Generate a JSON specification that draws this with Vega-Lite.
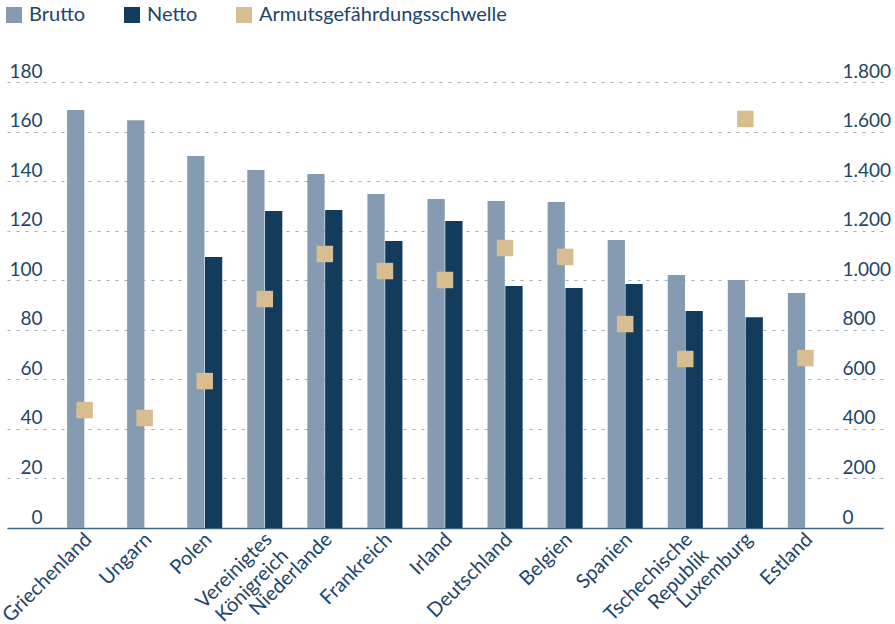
{
  "$schema": "https://vega.github.io/schema/vega-lite/v6.json",
  "width": 876,
  "height": 446,
  "autosize": {"type": "none"},
  "padding": {"left": 7, "top": 82, "right": 12, "bottom": 96},
  "background": "white",
  "config": {
    "view": {"stroke": null},
    "font": "Lato",
    "axis": {"labelFont": "Lato", "labelColor": "#1e4568", "labelFontSize": 19},
    "legend": {"labelFont": "Lato", "labelColor": "#1e4568", "labelFontSize": 20}
  },
  "data": {
    "values": [
      {"land": "Griechenland", "typ": "Brutto", "wert": 168.7},
      {"land": "Griechenland", "typ": "Armutsgefährdungsschwelle", "wert": 476},
      {"land": "Ungarn", "typ": "Brutto", "wert": 164.6},
      {"land": "Ungarn", "typ": "Armutsgefährdungsschwelle", "wert": 444},
      {"land": "Polen", "typ": "Brutto", "wert": 150.1},
      {"land": "Polen", "typ": "Netto", "wert": 109.4},
      {"land": "Polen", "typ": "Armutsgefährdungsschwelle", "wert": 593},
      {"land": "Vereinigtes Königreich", "typ": "Brutto", "wert": 144.5},
      {"land": "Vereinigtes Königreich", "typ": "Netto", "wert": 127.9},
      {"land": "Vereinigtes Königreich", "typ": "Armutsgefährdungsschwelle", "wert": 924},
      {"land": "Niederlande", "typ": "Brutto", "wert": 142.9},
      {"land": "Niederlande", "typ": "Netto", "wert": 128.3},
      {"land": "Niederlande", "typ": "Armutsgefährdungsschwelle", "wert": 1106},
      {"land": "Frankreich", "typ": "Brutto", "wert": 134.8},
      {"land": "Frankreich", "typ": "Netto", "wert": 115.8},
      {"land": "Frankreich", "typ": "Armutsgefährdungsschwelle", "wert": 1037},
      {"land": "Irland", "typ": "Brutto", "wert": 132.8},
      {"land": "Irland", "typ": "Netto", "wert": 123.9},
      {"land": "Irland", "typ": "Armutsgefährdungsschwelle", "wert": 1001},
      {"land": "Deutschland", "typ": "Brutto", "wert": 132.0},
      {"land": "Deutschland", "typ": "Netto", "wert": 97.7},
      {"land": "Deutschland", "typ": "Armutsgefährdungsschwelle", "wert": 1130},
      {"land": "Belgien", "typ": "Brutto", "wert": 131.6},
      {"land": "Belgien", "typ": "Netto", "wert": 96.9},
      {"land": "Belgien", "typ": "Armutsgefährdungsschwelle", "wert": 1094},
      {"land": "Spanien", "typ": "Brutto", "wert": 116.2},
      {"land": "Spanien", "typ": "Netto", "wert": 98.5},
      {"land": "Spanien", "typ": "Armutsgefährdungsschwelle", "wert": 823},
      {"land": "Tschechische Republik", "typ": "Brutto", "wert": 102.1},
      {"land": "Tschechische Republik", "typ": "Netto", "wert": 87.6},
      {"land": "Tschechische Republik", "typ": "Armutsgefährdungsschwelle", "wert": 682},
      {"land": "Luxemburg", "typ": "Brutto", "wert": 100.1},
      {"land": "Luxemburg", "typ": "Netto", "wert": 85.1},
      {"land": "Luxemburg", "typ": "Armutsgefährdungsschwelle", "wert": 1651},
      {"land": "Estland", "typ": "Brutto", "wert": 94.8},
      {"land": "Estland", "typ": "Armutsgefährdungsschwelle", "wert": 686}
    ]
  },
  "encoding": {
    "x": {
      "field": "land",
      "type": "nominal",
      "sort": null,
      "scale": {"paddingInner": 0.41667, "paddingOuter": 1.00833},
      "axis": {
        "title": null,
        "labelAngle": -45,
        "labelAlign": "right",
        "labelBaseline": "middle",
        "labelPadding": 8,
        "labelOffset": 4,
        "labelFontSize": 20,
        "labelExpr": "indexof(datum.label, ' ') > 0 ? [split(datum.label, ' ')[0] + '\u2002\u2002\u2002', split(datum.label, ' ')[1]] : datum.label",
        "labelLineHeight": 23,
        "labelOverlap": false,
        "labelBound": false,
        "ticks": false,
        "domainColor": "#3d6688",
        "domainWidth": 1.5,
        "grid": false
      }
    },
    "color": {
      "field": "typ",
      "type": "nominal",
      "scale": {
        "domain": ["Brutto", "Netto", "Armutsgefährdungsschwelle"],
        "range": ["#849bb2", "#123b5c", "#d8bd90"]
      },
      "legend": {
        "title": null,
        "orient": "none",
        "direction": "horizontal",
        "legendX": -3,
        "legendY": -77,
        "symbolType": "square",
        "symbolSize": 256,
        "symbolStrokeWidth": 0,
        "symbolOpacity": 1,
        "labelOffset": 5,
        "labelLimit": 0,
        "columnPadding": 36
      }
    }
  },
  "layer": [
    {
      "transform": [{"filter": "datum.typ !== 'Armutsgefährdungsschwelle'"}],
      "mark": {"type": "bar", "opacity": 1},
      "encoding": {
        "xOffset": {
          "field": "typ",
          "type": "nominal",
          "scale": {"domain": ["Brutto", "Netto"], "paddingInner": 0.03}
        },
        "y": {
          "field": "wert",
          "type": "quantitative",
          "scale": {"domain": [0, 180], "nice": false},
          "axis": {
            "title": null,
            "orient": "left",
            "values": [0, 20, 40, 60, 80, 100, 120, 140, 160, 180],
            "domain": false,
            "ticks": false,
            "labelAlign": "right",
            "labelBaseline": "alphabetic",
            "labelPadding": -35,
            "labelOffset": -5,
            "grid": true,
            "gridDash": [3, 6],
            "gridColor": "#9fb0c3",
            "gridWidth": 1
          }
        }
      }
    },
    {
      "transform": [{"filter": "datum.typ === 'Armutsgefährdungsschwelle'"}],
      "mark": {"type": "point", "shape": "square", "filled": true, "opacity": 1, "size": 272},
      "encoding": {
        "y": {
          "field": "wert",
          "type": "quantitative",
          "scale": {"domain": [0, 1800], "nice": false},
          "axis": {
            "title": null,
            "orient": "right",
            "values": [0, 200, 400, 600, 800, 1000, 1200, 1400, 1600, 1800],
            "labelExpr": "replace(format(datum.value, ','), ',', '.')",
            "domain": false,
            "ticks": false,
            "labelAlign": "left",
            "labelBaseline": "alphabetic",
            "labelPadding": -41,
            "labelOffset": -5,
            "grid": false
          }
        }
      }
    }
  ],
  "resolve": {"scale": {"y": "independent"}}
}
